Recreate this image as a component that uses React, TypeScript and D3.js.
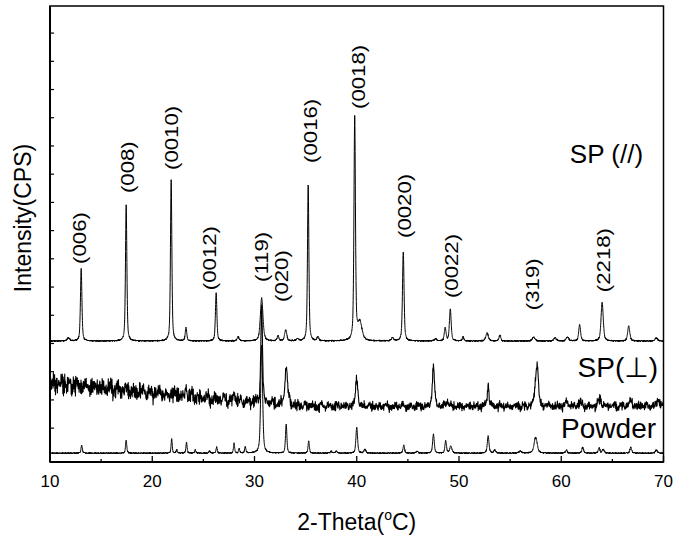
import React from "react";
import * as d3 from "d3";

// ---- axis / ticks ----
const X_DOMAIN = [10, 70];
const Y_DOMAIN = [-1.2, 14.96];
const X_MAJOR = [10, 20, 30, 40, 50, 60, 70];
const X_MINOR = [15, 25, 35, 45, 55, 65];
const Y_TICKS = [0, 1, 2, 3, 4, 5, 6, 7, 8, 9, 10, 11, 12, 13, 14];

// ---- SP (//) : peak positions (2θ), heights, widths ----
const PAR_BASE = 3.085;
const PAR_POS = [11.8, 13.05, 17.45, 21.85, 23.3, 26.25, 28.4, 30.7, 32.3, 33.05, 34.2, 35.25, 36.2, 39.8, 40.3, 43.5, 44.55, 47.7, 48.65, 49.15, 50.4, 52.75, 54.0, 57.3, 59.4, 60.6, 61.8, 64.0, 66.6, 69.3];
const PAR_H = [0.11, 2.55, 4.82, 5.71, 0.46, 1.7, 0.14, 1.52, 0.18, 0.39, 0.07, 5.53, 0.14, 7.91, 0.64, 0.11, 3.16, 0.07, 0.46, 1.13, 0.14, 0.28, 0.21, 0.14, 0.11, 0.14, 0.57, 1.38, 0.53, 0.11];
const PAR_W = [0.3, 0.17, 0.16, 0.16, 0.18, 0.17, 0.25, 0.3, 0.2, 0.25, 0.3, 0.16, 0.2, 0.17, 0.5, 0.25, 0.18, 0.3, 0.2, 0.2, 0.2, 0.3, 0.2, 0.3, 0.3, 0.3, 0.22, 0.25, 0.25, 0.3];

// ---- SP (⊥) ----
const PERP_BASE_T = [10, 15, 20, 25, 30, 35, 45, 70];
const PERP_BASE_V = [1.6, 1.42, 1.24, 1.07, 0.9, 0.78, 0.76, 0.78];
const PERP_NOISE_T = [10, 20, 30, 40, 70];
const PERP_NOISE_A = [0.32, 0.25, 0.19, 0.13, 0.13];
const PERP_POS = [23.3, 28.0, 30.7, 33.1, 40.0, 47.5, 48.8, 52.85, 57.55, 57.7, 60.6, 61.8, 63.8, 66.8, 69.5];
const PERP_H = [0.39, 0.28, 3.42, 1.38, 1.02, 1.42, 0.18, 0.8, 1.02, 0.88, 0.14, 0.14, 0.28, 0.18, 0.25];
const PERP_W = [0.12, 0.15, 0.2, 0.3, 0.25, 0.25, 0.3, 0.2, 0.3, 0.22, 0.3, 0.3, 0.3, 0.3, 0.3];

// ---- Powder ----
const POW_BASE = -0.887;
const POW_POS = [13.1, 17.45, 21.9, 22.4, 23.35, 24.2, 25.6, 26.3, 28.0, 28.5, 29.1, 30.7, 33.1, 35.3, 37.5, 38.0, 40.0, 40.8, 44.6, 45.9, 47.5, 48.7, 49.2, 52.85, 53.5, 56.0, 57.5, 60.5, 62.1, 63.7, 64.1, 66.8, 69.3];
const POW_H = [0.28, 0.46, 0.5, 0.11, 0.39, 0.11, 0.07, 0.21, 0.35, 0.14, 0.21, 3.83, 1.03, 0.43, 0.07, 0.07, 0.92, 0.14, 0.28, 0.07, 0.67, 0.43, 0.25, 0.6, 0.11, 0.07, 0.57, 0.11, 0.21, 0.18, 0.14, 0.21, 0.11];
const POW_W = [0.15, 0.14, 0.13, 0.15, 0.13, 0.15, 0.15, 0.15, 0.13, 0.15, 0.15, 0.22, 0.16, 0.15, 0.2, 0.2, 0.19, 0.2, 0.18, 0.2, 0.19, 0.18, 0.25, 0.2, 0.2, 0.3, 0.35, 0.2, 0.2, 0.2, 0.2, 0.2, 0.25];

// detector noise texture (hand-typed)
const NOISE_A = [0.62, -0.35, 0.91, -0.78, 0.12, -0.54, 0.33, 0.85, -0.92, 0.07, -0.21, 0.68, -0.63, 0.44, -0.05, 0.97, -0.88, 0.26, -0.41, 0.59, -0.15, 0.73, -0.69, 0.38, -0.97, 0.18, 0.51, -0.29, 0.84, -0.47, 0.02, -0.81, 0.66, -0.12, 0.39, -0.73, 0.93, -0.58, 0.24, -0.36, 0.77, -0.02, -0.65, 0.49, -0.86, 0.31, 0.11, -0.44, 0.82, -0.23, 0.57, -0.95, 0.16, 0.71, -0.52, 0.36, -0.08, 0.88, -0.75, 0.45, -0.31];
const NOISE_B = [-0.48, 0.79, -0.14, 0.35, -0.91, 0.58, 0.04, -0.67, 0.92, -0.27, 0.43, -0.83, 0.19, 0.66, -0.39, 0.87, -0.06, -0.74, 0.29, 0.53, -0.96, 0.14, 0.61, -0.32, 0.81, -0.57, 0.09, -0.19, 0.74, -0.88, 0.41, 0.22, -0.62, 0.95, -0.43, 0.06, 0.69, -0.79, 0.27, -0.11, 0.84, -0.51, 0.33, -0.94, 0.56, 0.13, -0.37, 0.78, -0.66, 0.21, 0.47, -0.85, 0.39];

// ---- peak labels ----
const LABELS = ["(006)", "(008)", "(0010)", "(0012)", "(119)", "(020)", "(0016)", "(0018)", "(0020)", "(0022)", "(319)", "(2218)"];
const LABEL_T = [12.93, 17.62, 21.92, 25.64, 30.72, 32.67, 35.51, 40.2, 44.69, 49.28, 57.2, 64.14];
const LABEL_V = [5.82, 8.33, 9.15, 4.89, 5.18, 4.47, 9.4, 11.31, 6.74, 4.61, 4.18, 4.82];

const SERIES_NAMES = ["SP (//)", "SP(\u22A5)", "Powder"];
const SERIES_T = [68.0, 69.46, 69.27];
const SERIES_V = [9.4, 1.81, -0.355];
const SERIES_SIZE = [26, 28, 28];

const noise = (i: number) =>
  0.7 * NOISE_A[i % NOISE_A.length] +
  0.7 * NOISE_B[(i * 7) % NOISE_B.length] +
  0.45 * NOISE_A[(Math.floor(i / 4) * 3) % NOISE_A.length];

function profile(t: number, pos: number[], h: number[], w: number[]) {
  let s = 0;
  for (let k = 0; k < pos.length; k++) {
    const u = (t - pos[k]) / (w[k] / 2);
    const L = 1 / (1 + u * u);
    const G = Math.exp(-Math.LN2 * u * u);
    s += h[k] * (0.5 * L + 0.5 * G);
  }
  return s;
}

function build(step: number, f: (t: number, i: number) => number) {
  const pts: [number, number][] = [];
  const n = Math.round((X_DOMAIN[1] - X_DOMAIN[0]) / step);
  for (let i = 0; i <= n; i++) {
    const t = X_DOMAIN[0] + i * step;
    pts.push([t, f(t, i)]);
  }
  return pts;
}

export default function App() {
  const W = 674, H = 536;
  const x = d3.scaleLinear().domain(X_DOMAIN).range([50, 663.5]);
  const y = d3.scaleLinear().domain(Y_DOMAIN).range([462, 6]);
  const perpBase = d3.scaleLinear().domain(PERP_BASE_T).range(PERP_BASE_V);
  const perpAmp = d3.scaleLinear().domain(PERP_NOISE_T).range(PERP_NOISE_A);

  const par = build(0.01, (t, i) => PAR_BASE + profile(t, PAR_POS, PAR_H, PAR_W) + 0.02 * noise(i));
  const perp = build(0.03, (t, i) => perpBase(t) + profile(t, PERP_POS, PERP_H, PERP_W) + perpAmp(t) * noise(i));
  const pow = build(0.01, (t, i) => POW_BASE + profile(t, POW_POS, POW_H, POW_W) + 0.018 * noise(i + 17));

  const line = d3.line<[number, number]>().x(d => x(d[0])).y(d => y(d[1]));
  const font = "'Liberation Sans', Arial, 'DejaVu Sans', sans-serif";
  const [x0, x1] = x.range();
  const [y0, y1] = y.range();

  return (
    <svg width={W} height={H} style={{ position: "absolute", left: 0, top: 0, background: "#fff" }} fontFamily={font}>
      <defs>
        <clipPath id="plot">
          <rect x={x0} y={y1} width={x1 - x0} height={y0 - y1} />
        </clipPath>
      </defs>
      <g clipPath="url(#plot)" fill="none" stroke="#000" strokeLinejoin="round">
        <path d={line(pow) || ""} strokeWidth={1} />
        <path d={line(perp) || ""} strokeWidth={1.1} />
        <path d={line(par) || ""} strokeWidth={1} />
      </g>
      {/* frame */}
      <rect x={x0} y={y1} width={x1 - x0} height={y0 - y1} fill="none" stroke="#000" strokeWidth={1.5} />
      <line x1={x0} x2={x0} y1={y1} y2={y0} stroke="#000" strokeWidth={2} />
      <line x1={x0} x2={x1} y1={y0} y2={y0} stroke="#000" strokeWidth={2} />
      {X_MAJOR.map(t => (
        <g key={"M" + t}>
          <line x1={x(t)} x2={x(t)} y1={y0} y2={y0 - 6} stroke="#000" strokeWidth={1.3} />
          <text x={x(t)} y={487} fontSize={17} textAnchor="middle">{t}</text>
        </g>
      ))}
      {X_MINOR.map(t => (
        <line key={"m" + t} x1={x(t)} x2={x(t)} y1={y0} y2={y0 - 3} stroke="#000" strokeWidth={1.3} />
      ))}
      {Y_TICKS.map(v => (
        <line key={"y" + v} x1={x0} x2={x0 + 4} y1={y(v)} y2={y(v)} stroke="#000" strokeWidth={1.2} />
      ))}
      {/* peak labels */}
      {LABELS.map((s, i) => (
        <text key={s} transform={`translate(${x(LABEL_T[i])},${y(LABEL_V[i])}) rotate(-90) scale(1.2,1)`}
          fontSize={18.5} textAnchor="start" dominantBaseline="central">{s}</text>
      ))}
      {SERIES_NAMES.map((s, i) => (
        <text key={s} x={x(SERIES_T[i])} y={y(SERIES_V[i])} fontSize={SERIES_SIZE[i]} textAnchor="end">{s}</text>
      ))}
      {/* axis titles */}
      <text x={(x0 + x1) / 2} y={530} fontSize={23} textAnchor="middle">
        2-Theta(<tspan fontSize={14} dy={-10}>o</tspan><tspan dy={10}>C)</tspan>
      </text>
      <text transform="translate(31,218) rotate(-90)" fontSize={23} textAnchor="middle">Intensity(CPS)</text>
    </svg>
  );
}
